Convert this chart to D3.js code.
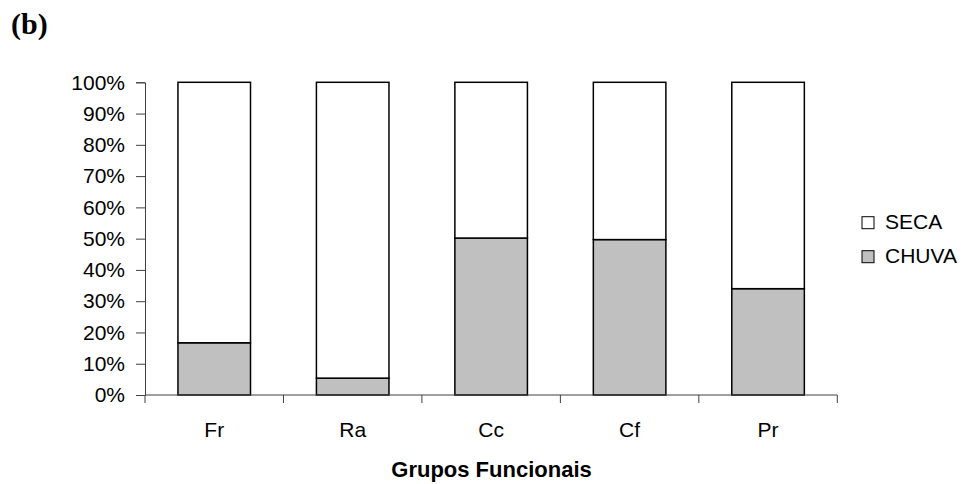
<!DOCTYPE html>
<html><head><meta charset="utf-8">
<script src="https://cdn.jsdelivr.net/npm/d3@7"></script>
<style>body{margin:0;background:#fff}svg{display:block}</style>
</head><body>
<svg id="c" width="965" height="484"></svg>
<script>
const categories = ["Fr", "Ra", "Cc", "Cf", "Pr"];
const chuva = [16.7, 5.4, 50.2, 49.7, 34.0];
const seca = [83.3, 94.6, 49.8, 50.3, 66.0];
const yTicks = [0, 10, 20, 30, 40, 50, 60, 70, 80, 90, 100];
const seriesNames = ["SECA", "CHUVA"];
const seriesColors = ["#ffffff", "#c0c0c0"];

(function () {
const svg = d3.select("#c");
const mLeft = 145, mRight = 837.3, mTop = 82.3, mBottom = 395;
const font = "Liberation Sans, Arial, sans-serif";

const x = d3.scaleBand().domain(categories).range([mLeft, mRight]).paddingInner(0.476).paddingOuter(0.238);
const y = d3.scaleLinear().domain([0, 100]).range([mBottom, mTop]);

// Title
svg.append("text").attr("x", 11).attr("y", 34)
  .attr("font-family", "Liberation Serif, Times New Roman, serif")
  .attr("font-weight", "bold").attr("font-size", 30).text("(b)");

// Bars
const rows = categories.map((c, i) => ({c, chuva: chuva[i], seca: seca[i]}));
const g = svg.append("g");
rows.forEach(r => {
  g.append("rect").attr("x", x(r.c)).attr("width", x.bandwidth())
    .attr("y", y(r.chuva)).attr("height", y(0) - y(r.chuva))
    .attr("fill", seriesColors[1]).attr("stroke", "#000").attr("stroke-width", 1.5);
  g.append("rect").attr("x", x(r.c)).attr("width", x.bandwidth())
    .attr("y", y(r.chuva + r.seca)).attr("height", y(r.chuva) - y(r.chuva + r.seca))
    .attr("fill", seriesColors[0]).attr("stroke", "#000").attr("stroke-width", 1.5);
});

// Y axis
const yAxis = d3.axisLeft(y).tickValues(yTicks).tickFormat(d => d + "%").tickSize(9).tickPadding(11);
const ya = svg.append("g").attr("transform", `translate(${mLeft},0)`).call(yAxis);
ya.selectAll("text").attr("font-family", font).attr("font-size", 21).attr("fill", "#000");
ya.selectAll("path,line").attr("stroke", "#404040");

// X axis with ticks at band boundaries
const step = x.step();
const boundaries = d3.range(categories.length + 1).map(i => mLeft + i * step);
svg.append("line").attr("x1", mLeft).attr("x2", mRight).attr("y1", mBottom).attr("y2", mBottom)
  .attr("stroke", "#404040");
svg.selectAll(".xt").data(boundaries).enter().append("line")
  .attr("x1", d => d).attr("x2", d => d).attr("y1", mBottom).attr("y2", mBottom + 8)
  .attr("stroke", "#404040");
svg.selectAll(".xl").data(categories).enter().append("text")
  .attr("x", d => x(d) + x.bandwidth() / 2).attr("y", 436.5)
  .attr("text-anchor", "middle").attr("font-family", font).attr("font-size", 21).text(d => d);

// X axis title
svg.append("text").attr("x", 491.5).attr("y", 477).attr("text-anchor", "middle")
  .attr("font-family", font).attr("font-weight", "bold").attr("font-size", 22).text("Grupos Funcionais");

// Legend
seriesNames.forEach((n, i) => {
  const ly = 216.7 + i * 34;
  svg.append("rect").attr("x", 862).attr("y", ly).attr("width", 12).attr("height", 12)
    .attr("fill", seriesColors[i]).attr("stroke", "#000").attr("stroke-width", 1);
  svg.append("text").attr("x", 885).attr("y", ly + 12.6)
    .attr("font-family", font).attr("font-size", 21).text(n);
});
})();
</script>
</body></html>
